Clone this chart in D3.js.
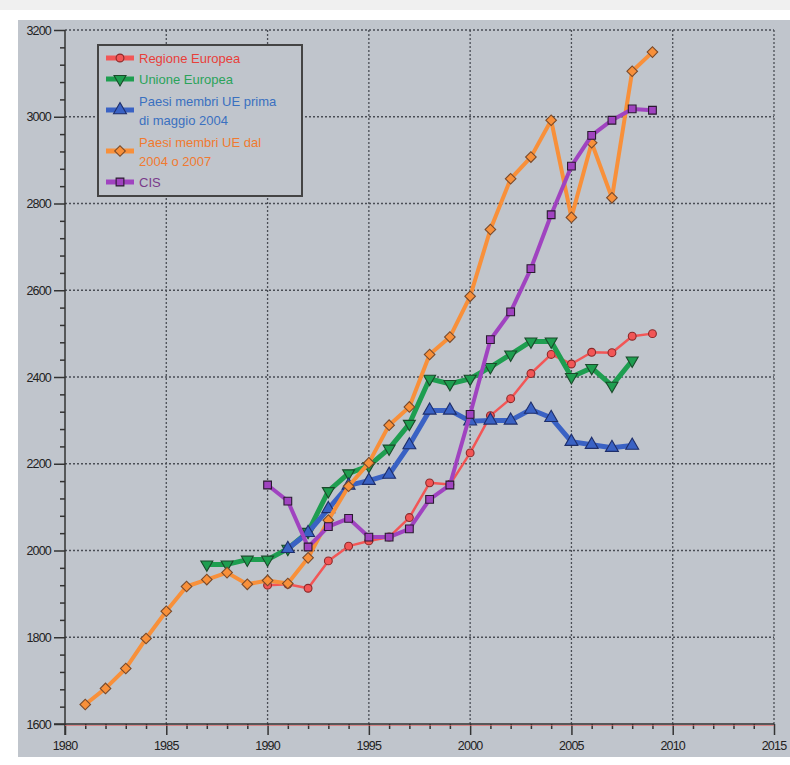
<!DOCTYPE html>
<html>
<head>
<meta charset="utf-8">
<script src="https://cdn.jsdelivr.net/npm/d3@7"></script>
<style>
  body { margin: 0; background: #ffffff; }
  svg { display: block; font-family: "Liberation Sans", Arial, sans-serif; }
</style>
</head>
<body>
<svg id="chart" width="790" height="765"></svg>
<script>
// values
const regioneYears = d3.range(1990, 2010);
const regioneValues = [1920, 1922, 1913, 1976, 2010, 2022, 2031, 2076, 2156, 2152,
  2225, 2311, 2350, 2408, 2452, 2430, 2457, 2456, 2494, 2500];

const unioneYears = d3.range(1987, 2009);
const unioneValues = [1968, 1968, 1979, 1979, 2004, 2043, 2137, 2178, 2195, 2235,
  2292, 2396, 2384, 2396, 2423, 2452, 2482, 2482, 2400, 2421, 2380, 2438];

const primaYears = d3.range(1991, 2009);
const primaValues = [2004, 2041, 2096, 2150, 2161, 2175, 2243, 2323, 2323, 2298,
  2300, 2300, 2325, 2306, 2251, 2244, 2237, 2242];

const dalYears = d3.range(1981, 2010);
const dalValues = [1645, 1682, 1728, 1797, 1860, 1917, 1933, 1949, 1922, 1931,
  1924, 1983, 2070, 2148, 2202, 2289, 2331, 2452, 2492, 2586,
  2740, 2857, 2907, 2992, 2768, 2940, 2813, 3105, 3149];

const cisYears = d3.range(1990, 2010);
const cisValues = [2151, 2114, 2008, 2055, 2074, 2031, 2031, 2050, 2118, 2151,
  2314, 2486, 2550, 2650, 2774, 2886, 2957, 2992, 3018, 3015];

const seriesNames = ["Regione Europea", "Unione Europea",
  "Paesi membri UE prima|di maggio 2004", "Paesi membri UE dal|2004 o 2007", "CIS"];

const xTicks = [1980, 1985, 1990, 1995, 2000, 2005, 2010, 2015];
const yTicks = [1600, 1800, 2000, 2200, 2400, 2600, 2800, 3000, 3200];

const series = [
  { name: seriesNames[0], years: regioneYears, values: regioneValues, color: "#f25656", text: "#e8403a", width: 2.5, shape: "circle", stroke: "#8a2a2a" },
  { name: seriesNames[1], years: unioneYears, values: unioneValues, color: "#1e9e50", text: "#2ba35a", width: 5, shape: "down", stroke: "#1a4a2a" },
  { name: seriesNames[2], years: primaYears, values: primaValues, color: "#3a62c4", text: "#3a70c0", width: 5, shape: "up", stroke: "#1e2e6a" },
  { name: seriesNames[3], years: dalYears, values: dalValues, color: "#f8903a", text: "#f07a30", width: 4, shape: "diamond", stroke: "#7a4a2a" },
  { name: seriesNames[4], years: cisYears, values: cisValues, color: "#a043c0", text: "#7a3a8a", width: 4, shape: "square", stroke: "#2a1a30" }
];

const svg = d3.select("#chart");

// page and panel
svg.append("rect").attr("x", 0).attr("y", 0).attr("width", 790).attr("height", 10).attr("fill", "#f0f0f0");
svg.append("rect").attr("x", 18).attr("y", 20).attr("width", 772).attr("height", 737).attr("fill", "#c0c5cc");

const x = d3.scaleLinear().domain([1980, 2015]).range([65, 774]);
const y = d3.scaleLinear().domain([1600, 3200]).range([724, 30]);

// grid
const grid = svg.append("g").attr("stroke", "#4a4e55").attr("stroke-width", 1.3).attr("stroke-dasharray", "2,2");
grid.selectAll("line.v").data(xTicks.slice(1)).enter().append("line")
  .attr("x1", d => x(d)).attr("x2", d => x(d)).attr("y1", y(3200)).attr("y2", y(1600));
grid.selectAll("line.h").data(yTicks.slice(1)).enter().append("line")
  .attr("x1", x(1980)).attr("x2", x(2015)).attr("y1", d => y(d)).attr("y2", d => y(d));

// axes
const yAxis = svg.append("g").attr("transform", `translate(${x(1980)},0)`)
  .call(d3.axisLeft(y).tickValues(d3.range(1600, 3201, 40)).tickSize(5).tickFormat(""));
yAxis.call(g => g.selectAll(".tick line").filter(d => d % 200 === 0).attr("x2", -11));
yAxis.selectAll(".domain").remove();
svg.append("line").attr("x1", x(1980)).attr("x2", x(1980)).attr("y1", y(3200)).attr("y2", y(1600) + 11)
  .attr("stroke", "#333").attr("stroke-width", 1.5);
svg.append("g").selectAll("text").data(yTicks).enter().append("text")
  .attr("x", 51).attr("y", d => y(d) + 4.5).attr("text-anchor", "end")
  .attr("font-size", 12.5).attr("fill", "#222").attr("letter-spacing", -0.8).text(d => d);

const xAxis = svg.append("g").attr("transform", `translate(0,${y(1600)})`)
  .call(d3.axisBottom(x).tickValues(d3.range(1980, 2016)).tickSize(5).tickFormat(""));
xAxis.call(g => g.selectAll(".tick line").filter(d => d % 5 === 0).attr("y2", 11));
xAxis.selectAll(".domain").remove();
svg.append("line").attr("x1", x(1980)).attr("x2", x(2015)).attr("y1", y(1600) + 1.5).attr("y2", y(1600) + 1.5)
  .attr("stroke", "#e06a6a").attr("stroke-width", 1).attr("opacity", 0.7);
svg.append("line").attr("x1", x(1980) - 11).attr("x2", x(2015)).attr("y1", y(1600)).attr("y2", y(1600))
  .attr("stroke", "#333").attr("stroke-width", 1.5);
svg.selectAll(".tick line").attr("stroke", "#333").attr("stroke-width", 1.5);
svg.append("g").selectAll("text").data(xTicks).enter().append("text")
  .attr("x", d => x(d)).attr("y", 750).attr("text-anchor", "middle")
  .attr("font-size", 12.5).attr("fill", "#222").attr("letter-spacing", -0.8).text(d => d);

// marker shapes
function marker(sel, s) {
  let sym, rot = 0, size = 60;
  if (s.shape === "circle") { sym = d3.symbolCircle; size = 48; }
  else if (s.shape === "down") { sym = d3.symbolTriangle; rot = 180; size = 62; }
  else if (s.shape === "up") { sym = d3.symbolTriangle; size = 72; }
  else if (s.shape === "diamond") { sym = d3.symbolSquare; rot = 45; size = 56; }
  else { sym = d3.symbolSquare; size = 60; }
  sel.attr("d", d3.symbol().type(sym).size(size)())
    .attr("fill", s.color).attr("stroke", s.stroke).attr("stroke-width", 1.1);
  return rot;
}

const line = d3.line().x(d => x(d[0])).y(d => y(d[1]));

series.forEach(s => {
  const pts = s.years.map((yr, i) => [yr, s.values[i]]);
  const g = svg.append("g");
  g.append("path").datum(pts).attr("d", line).attr("fill", "none")
    .attr("stroke", s.color).attr("stroke-width", s.width).attr("stroke-linejoin", "round");
  g.selectAll("path.m").data(pts).enter().append("path").attr("class", "m")
    .each(function(d) {
      const rot = marker(d3.select(this), s);
      d3.select(this).attr("transform", `translate(${x(d[0])},${y(d[1])}) rotate(${rot})`);
    });
});

// legend
const lg = svg.append("g");
lg.append("rect").attr("x", 98).attr("y", 45).attr("width", 204).attr("height", 151)
  .attr("fill", "#c0c5cc").attr("stroke", "#444").attr("stroke-width", 2);
const rowY = [58, 79, 110, 151, 182];
series.forEach((s, i) => {
  const cy = rowY[i];
  lg.append("line").attr("x1", 106).attr("x2", 134).attr("y1", cy).attr("y2", cy)
    .attr("stroke", s.color).attr("stroke-width", 5);
  const m = lg.append("path");
  const rot = marker(m, s);
  m.attr("transform", `translate(120,${cy}) rotate(${rot})`);
  const parts = s.name.split("|");
  const t = lg.append("text").attr("x", 139).attr("font-size", 13).attr("fill", s.text);
  parts.forEach((p, j) => {
    t.append("tspan").attr("x", 139)
      .attr("y", cy + 4.5 + (parts.length === 2 ? (j === 0 ? -9 : 10) : 0)).text(p);
  });
});
</script>
</body>
</html>
